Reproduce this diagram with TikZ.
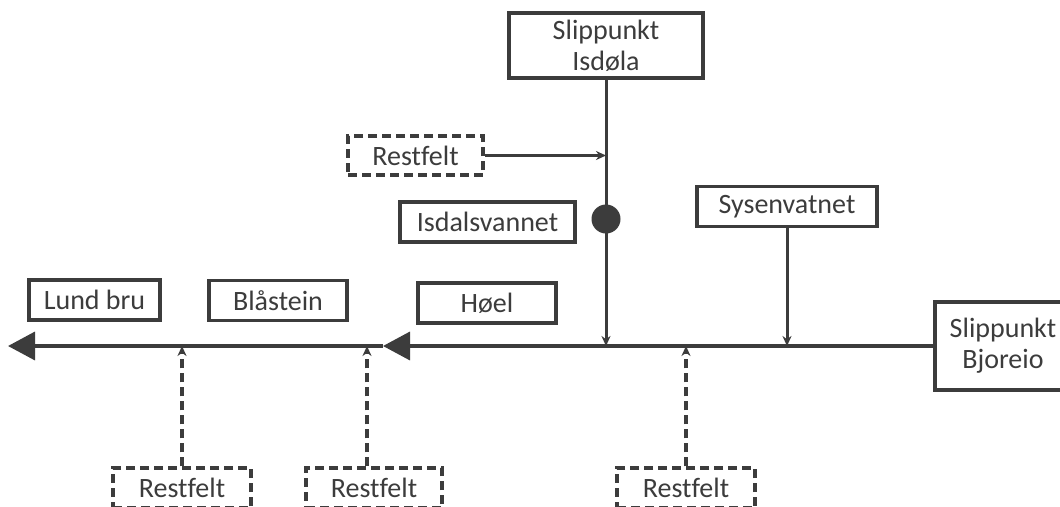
\documentclass[tikz,border=0pt]{standalone}
\usepackage{fontspec}
\setmainfont{Carlito}[Ligatures=NoCommon]
\usetikzlibrary{arrows.meta}
\definecolor{ink}{HTML}{3C3C3C}
\tikzset{
  lbl/.style={draw=ink, line width=3.5pt, text=ink, inner sep=0pt, align=center,
    font=\fontsize{28}{31}\selectfont},
  dlbl/.style={lbl, dash pattern=on 9pt off 5pt, line width=3.2pt},
  flow/.style={draw=ink, line width=3.5pt},
  small/.style={-{Stealth[length=10pt,width=9pt]}},
  big/.style={-{Triangle[length=27pt,width=28pt]}},
  dflow/.style={flow, line width=3.2pt, dash pattern=on 9pt off 5pt, small},
}
\begin{document}
\begin{tikzpicture}[x=1pt,y=-1pt]
\clip (0,0) rectangle (1060,506);
\fill[white] (0,0) rectangle (1060,506);
% nodes
\node[lbl, minimum width=194pt, minimum height=65pt] (isd) at (606,45.5) {Slippunkt\\Isdøla};
\node[dlbl, minimum width=135pt, minimum height=39pt] (rf0) at (415.5,155.5) {Restfelt};
\node[lbl, minimum width=175pt, minimum height=40pt] (isv) at (487.5,222) {Isdalsvannet};
\node[circle, fill=ink, minimum size=29pt, inner sep=0pt] (dot) at (606,219) {};
\node[lbl, minimum width=180pt, minimum height=40pt] (sys) at (787,206.5) {Sysenvatnet};
\node[lbl, minimum width=131pt, minimum height=40pt] (lund) at (94.5,300) {Lund bru};
\node[lbl, minimum width=138pt, minimum height=40pt] (bla) at (278,300.5) {Blåstein};
\node[lbl, minimum width=138pt, minimum height=40pt] (hoel) at (487,303) {Høel};
\node[lbl, minimum width=136pt, minimum height=88pt] (bj) at (1003,346) {Slippunkt\\Bjoreio};
\node[dlbl, minimum width=138pt, minimum height=40pt] (rf1) at (182,488) {Restfelt};
\node[dlbl, minimum width=136pt, minimum height=40pt] (rf2) at (374,488) {Restfelt};
\node[dlbl, minimum width=138pt, minimum height=40pt] (rf3) at (686,488) {Restfelt};
\coordinate (mid) at (383,346);
\coordinate (lend) at (8,346);
% main river
\draw[flow, big] (bj.west) -- (mid);
\draw[flow, big] (mid) -- (lend);
% tributaries
\draw[flow, line width=3pt, small] (isd.south -| dot) -- (dot |- bj.west);
\draw[flow, line width=2.6pt, small] (rf0.east) -- (rf0.east -| dot);
\draw[flow, line width=3pt, small] (sys.south) -- (sys.south |- bj.west);
\draw[dflow] (rf1.north) -- (rf1.north |- bj.west);
\draw[dflow] ([xshift=-7pt]rf2.north) -- ([xshift=-7pt]rf2.north |- bj.west);
\draw[dflow] (rf3.north) -- (rf3.north |- bj.west);
\end{tikzpicture}
\end{document}
